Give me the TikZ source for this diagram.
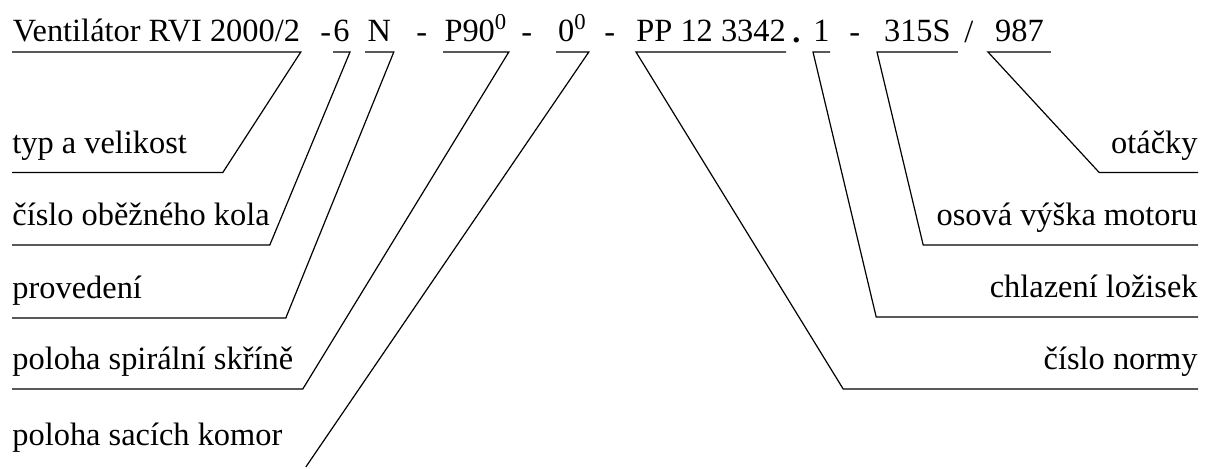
\documentclass[tikz,border=0pt]{standalone}
\usepackage{fontspec}
\setmainfont{Liberation Serif}
\usepackage{tikz}

\tikzset{
  txt/.style={inner sep=0pt,font=\fontsize{16.2}{19}\selectfont},
  seg/.style={txt,anchor=south west,text height=12pt,text depth=5pt},
  leftlbl/.style={txt,anchor=south west,align=flush left,text height=12pt,text depth=9.5pt},
  rightlbl/.style={txt,anchor=south east,align=flush right,text height=12pt,text depth=9.5pt},
  sep/.style={txt,anchor=base west},
  leader/.style={line width=0.6pt}
}

\begin{document}
\begin{tikzpicture}[x=0.5pt,y=-0.5pt]
\useasboundingbox (0,0) rectangle (1205,468);

% top row
\node [seg,minimum width=144pt] (ven) at (12,52) {Ventilátor RVI 2000/2};
\node [sep] (d1) at (320,42) {-};
\node [seg,minimum width=6.5pt] (kolo) at (333,52) {6};
\node [seg,minimum width=14pt] (prov) at (365,52) {N};
\node [sep] (d2) at (416,42) {-};
\node [seg,minimum width=32.5pt] (spir) at (443,52) {P90\textsuperscript{0}};
\node [sep] (d3) at (521,42) {-};
\node [seg,minimum width=16pt] (sac) at (556,52) {0\textsuperscript{0}};
\node [sep] (d4) at (604,42) {-};
\node [seg,minimum width=73pt] (norma) at (636,52) {PP 12 3342};
\node [sep] (tecka) at (792,42) {\textbf{.}};
\node [seg,minimum width=7.5pt] (chl) at (813,52) {1};
\node [sep] (d5) at (849,42) {-};
\node [seg,minimum width=40pt] (osa) at (877,52) {315S};
\node [sep] (lom) at (964,42) {/};
\node [seg,minimum width=31pt] (ot) at (988,52) {987};

% popisky vlevo
\node [leftlbl,text width=105pt] (typ) at (12,172.5) {\mbox{typ a velikost}};
\node [leftlbl,text width=128.5pt] (kololbl) at (12,245) {\mbox{číslo oběžného kola}};
\node [leftlbl,text width=136.5pt] (provlbl) at (12,318) {\mbox{provedení}};
\node [leftlbl,text width=145pt] (spirlbl) at (12,389) {\mbox{poloha spirální skříně}};
\node [leftlbl,text width=146.5pt,text depth=10.5pt] (saclbl) at (12,467) {\mbox{poloha sacích komor}};

% popisky vpravo
\node [rightlbl,text width=49pt] (otlbl) at (1198,172.5) {\mbox{otáčky}};
\node [rightlbl,text width=137pt] (osalbl) at (1198,245) {\mbox{osová výška motoru}};
\node [rightlbl,text width=160.5pt] (chllbl) at (1198,317) {\mbox{chlazení ložisek}};
\node [rightlbl,text width=177pt] (normalbl) at (1198,389) {\mbox{číslo normy}};

\draw [leader] (ven.south west) -- (ven.south east) -- (typ.south east) -- (typ.south west);
\draw [leader] (kolo.south west) -- (kolo.south east) -- (kololbl.south east) -- (kololbl.south west);
\draw [leader] (prov.south west) -- (prov.south east) -- (provlbl.south east) -- (provlbl.south west);
\draw [leader] (spir.south west) -- (spir.south east) -- (spirlbl.south east) -- (spirlbl.south west);
\draw [leader] (sac.south west) -- (sac.south east) -- (saclbl.south east);

\draw [leader] (ot.south east) -- (ot.south west) -- (otlbl.south west) -- (otlbl.south east);
\draw [leader] (osa.south east) -- (osa.south west) -- (osalbl.south west) -- (osalbl.south east);
\draw [leader] (chl.south east) -- (chl.south west) -- (chllbl.south west) -- (chllbl.south east);
\draw [leader] (norma.south east) -- (norma.south west) -- (normalbl.south west) -- (normalbl.south east);
\end{tikzpicture}
\end{document}
